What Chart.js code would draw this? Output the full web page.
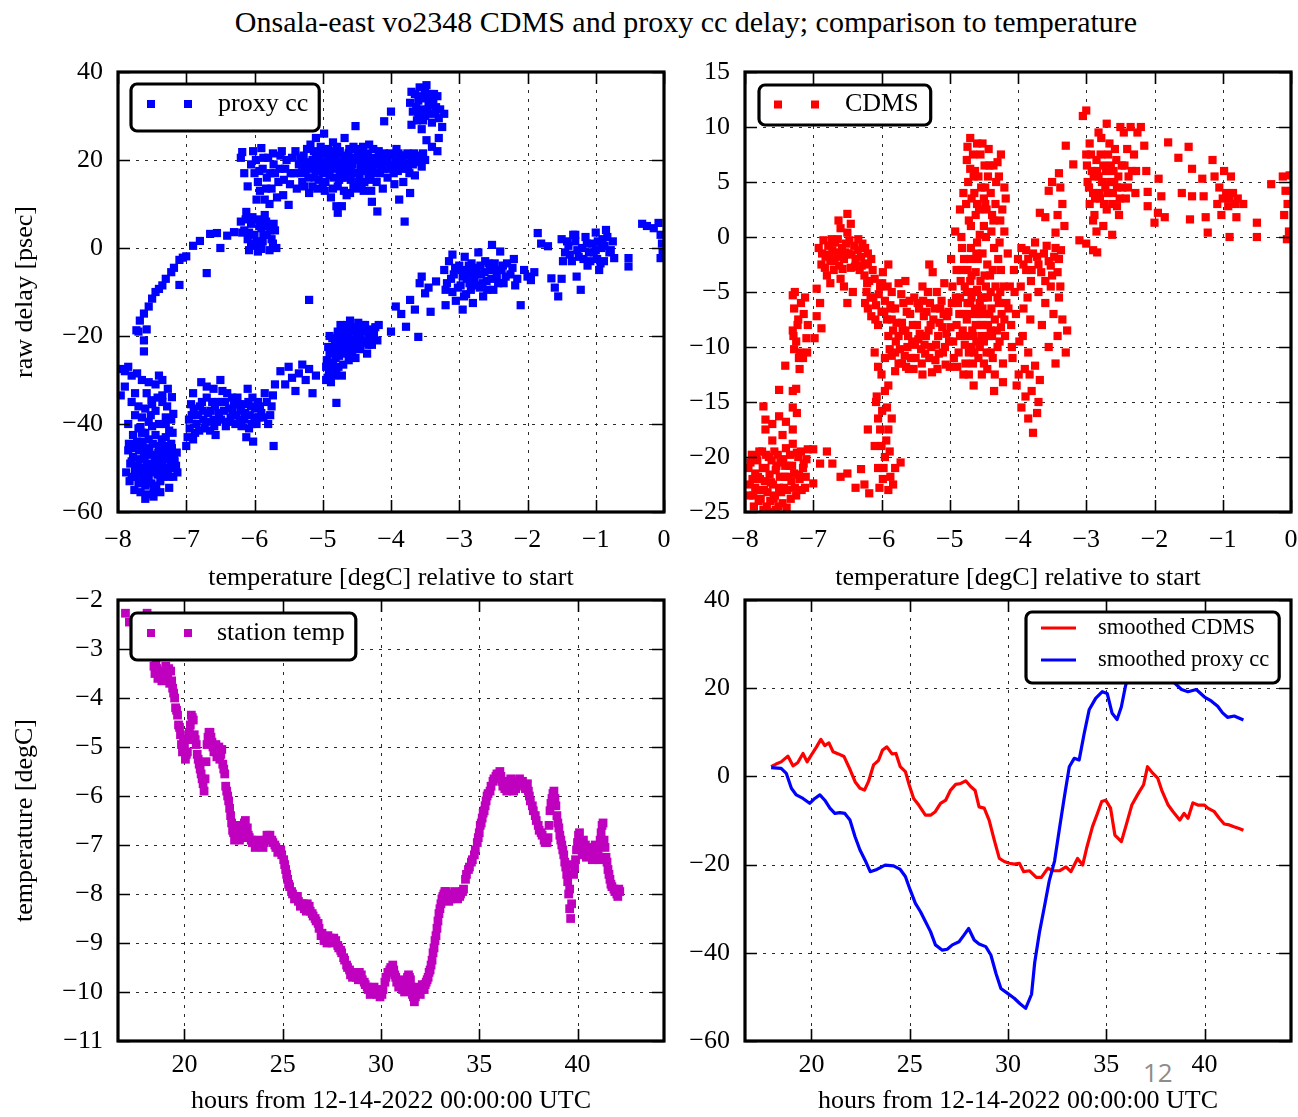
<!DOCTYPE html>
<html>
<head>
<meta charset="utf-8">
<script src="https://cdn.jsdelivr.net/npm/chart.js@4.4.1/dist/chart.umd.min.js"></script>
<style>
  html, body { margin: 0; padding: 0; background: #fff; }
  body { width: 1298px; height: 1117px; position: relative; overflow: hidden; }
  canvas { position: absolute; }
  #title { position: absolute; left: 686px; top: 5px; transform: translateX(-50%); white-space: nowrap;
           font-family: "Liberation Serif", "DejaVu Serif", serif; font-size: 30px; line-height: 34px; color: #000; }
  #page { position: absolute; left: 1143px; top: 1055px; font-family: "Open Sans", "Liberation Sans", sans-serif;
          font-size: 26px; line-height: 34px; color: #8c8c8c; }
</style>
</head>
<body>
<div id="title">Onsala-east vo2348 CDMS and proxy cc delay; comparison to temperature</div>
<div id="page">12</div>
<canvas id="c1" width="690" height="560" style="left:0px;top:40px"></canvas>
<canvas id="c2" width="660" height="560" style="left:660px;top:40px"></canvas>
<canvas id="c3" width="690" height="537" style="left:0px;top:580px"></canvas>
<canvas id="c4" width="660" height="537" style="left:660px;top:580px"></canvas>
<script>
// ---------------- tick values ----------------
const tempRelTicks = [-8, -7, -6, -5, -4, -3, -2, -1, 0];
const proxyDelayTicks = [-60, -40, -20, 0, 20, 40];
const cdmsDelayTicks = [-25, -20, -15, -10, -5, 0, 5, 10, 15];
const hourTicks = [20, 25, 30, 35, 40];
const stationTempTicks = [-11, -10, -9, -8, -7, -6, -5, -4, -3, -2];
const smoothDelayTicks = [-60, -40, -20, 0, 20, 40];

// ---------------- proxy cc delay [psec] vs temperature rel. to start [degC] ----------------
const proxyCC = [
[-7.85,-46],[-7.82,-49],[-7.8,-52],[-7.78,-47.5],[-7.75,-50.5],[-7.72,-44],[-7.7,-53.5],[-7.68,-48],[-7.65,-51],[-7.62,-46.5],
[-7.6,-54],[-7.58,-49.5],[-7.55,-52.5],[-7.52,-47],[-7.5,-50],[-7.48,-55],[-7.45,-48.5],[-7.42,-51.5],[-7.4,-45],[-7.38,-53],
[-7.35,-49],[-7.32,-46],[-7.3,-51],[-7.28,-48],[-7.25,-52],[-7.22,-44.5],[-7.2,-50],[-7.18,-47],[-7.15,-49.5],[-7.6,-57],
[-7.48,-56.5],[-7.38,-55.5],[-7.88,-51],[-7.7,-45],[-7.55,-43.5],[-7.45,-42.5],[-7.3,-43],[-7.25,-54.5],
[-7.84,-44.5],[-7.83,-53],[-7.8,-48.5],[-7.77,-45.5],[-7.76,-55],[-7.74,-52],[-7.71,-49.5],[-7.69,-46],[-7.67,-55.5],[-7.66,-50],
[-7.64,-44],[-7.63,-52.5],[-7.61,-48],[-7.59,-45.5],[-7.57,-51],[-7.56,-56],[-7.54,-46],[-7.53,-49],[-7.51,-53.5],[-7.49,-44.5],
[-7.47,-51],[-7.46,-47.5],[-7.44,-54],[-7.43,-49.5],[-7.41,-46.5],[-7.39,-51],[-7.37,-48],[-7.36,-43.5],[-7.34,-52],[-7.33,-50],
[-7.31,-47.5],[-7.29,-45],[-7.27,-50.5],[-7.24,-47],[-7.23,-49],[-7.21,-45.5],[-7.19,-52],[-7.17,-48.5],[-7.14,-46.5],[-7.13,-51],
[-7.6,-42],[-7.78,-42.5],[-7.5,-40.5],[-7.85,-40],[-7.52,-38],
[-7.95,-27.5],[-7.9,-28],[-7.85,-27],[-7.8,-29],[-7.72,-28.5],[-7.65,-30],[-7.9,-31.5],[-7.96,-33.5],[-7.55,-30.5],[-7.45,-31],[-7.35,-30],
[-7.62,-21],[-7.62,-23.5],[-7.58,-18.5],[-7.7,-19],
[-7.75,-38],[-7.7,-41],[-7.6,-36.5],[-7.55,-39.5],[-7.65,-42],[-7.45,-37],[-7.4,-40],[-7.35,-35],[-7.3,-38.5],[-7.25,-41.5],
[-7.35,-33.5],[-7.28,-36],[-7.22,-39],[-7.4,-29],[-7.27,-32],[-7.21,-33.9],[-7.19,-37.7],[-7.51,-34.6],[-7.67,-40.7],
[-7.8,-35],[-7.75,-33],[-7.7,-36],[-7.65,-38.5],[-7.58,-33],[-7.5,-35.5],[-7.42,-34],[-7.3,-40],[-7.2,-42],
[-7.73,-18.7],[-7.68,-16.5],[-7.62,-14.9],[-7.55,-13.3],[-7.5,-11.5],[-7.45,-10],[-7.4,-9.3],[-7.35,-8.5],[-7.3,-7],[-7.22,-5.5],
[-7.18,-4.5],[-7.1,-2.7],[-7.05,-2.2],[-7.0,-1.9],[-6.9,0.5],[-6.8,1.6],[-6.65,3.2],[-6.55,3.4],[-6.5,0],[-6.7,-5.7],[-7.1,-8.4],[-6.4,2.8],[-6.3,3.6],
[-6.2,6],[-6.15,4],[-6.1,2],[-6.05,5.5],[-6.0,3],[-6.0,0.5],[-5.95,6.5],[-5.9,4.5],[-5.88,1.5],[-5.85,7.5],[-5.82,3],[-5.8,5],
[-5.78,-0.5],[-5.75,2],[-5.7,4],[-5.68,0],[-6.12,8.2],[-5.95,-0.8],[-6.05,1],
[-6.18,3.5],[-6.13,6.5],[-6.08,3.5],[-6.03,7],[-5.97,1.5],[-5.93,5],[-5.87,3],[-5.83,6],[-5.77,4],[-5.73,1],[-5.72,5.5],[-5.9,-0.2],[-6.08,-0.5],
[-6.2,20.5],[-6.18,21.8],[-6.05,19],[-6.0,17],[-5.98,20],[-5.95,15],[-5.92,13],[-5.9,22.7],[-5.88,18],[-5.85,11],[-5.82,16],
[-5.8,20.5],[-5.78,10],[-5.75,13.5],[-5.72,19],[-5.7,17],[-5.65,15],[-5.62,21],[-5.6,22],[-5.58,12],[-5.55,18],[-5.5,9.8],[-5.48,14.5],[-5.45,20.5],
[-6.15,17],[-6.1,14],[-6.02,22],[-5.97,11],[-5.93,17.5],[-5.87,20.5],[-5.83,13.5],[-5.77,17],[-5.73,21.5],[-5.67,11.5],[-5.63,18],[-5.57,15.5],[-5.53,20],[-5.47,17],
[-5.4,22],[-5.35,19],[-5.3,15],[-5.28,21],[-5.25,17.5],[-5.2,12.5],[-5.18,23.5],[-5.15,20],[-5.12,16],[-5.1,25],[-5.08,13.5],
[-5.05,18.5],[-5.02,21.5],[-5.0,14.5],[-4.98,26],[-4.95,19.5],[-4.92,22.5],[-4.9,16.5],[-4.88,11.5],[-4.85,24],[-4.82,20.5],
[-4.8,18],[-4.78,14],[-4.75,22],[-4.72,9.5],[-4.7,19],[-4.68,25],[-4.65,16],[-4.62,21.5],[-4.6,12.5],[-4.58,18.5],[-4.55,23],
[-4.52,27.7],[-4.5,20],[-4.48,15],[-4.45,22],[-4.42,17.5],[-4.4,13],[-4.38,21],[-4.35,19],[-4.32,23.5],[-4.3,15.5],[-4.28,10.5],
[-4.25,20.5],[-4.22,17],[-4.2,8.3],[-4.18,22],[-4.15,18.5],[-4.12,13.5],[-4.1,28.8],[-4.08,20],[-4.05,16],[-4.02,21.5],[-4.0,31],
[-3.98,19],[-3.95,14.5],[-3.92,22.5],[-3.9,17.5],[-3.88,11],[-3.85,20.5],[-3.82,15],[-3.8,6],[-3.78,21],[-3.75,18],[-3.72,12.5],
[-3.7,20],[-3.65,16.5],[-3.6,21],[-3.55,18.5],[-3.5,20],[-4.8,9.5],[-4.78,8],[-5.2,19],[-5.0,17],[-4.6,19.5],[-4.4,20.5],[-4.9,20.5],
[-4.7,21],[-4.3,19.5],[-4.5,17],[-4.1,21.5],[-3.9,19.5],[-5.1,21],[-4.75,17],[-4.55,14],[-4.45,18.5],[-4.65,12],[-4.85,13.5],[-5.05,20.5],[-4.95,17.5],
[-5.42,17],[-5.38,13.5],[-5.33,20.5],[-5.3,18],[-5.27,14],[-5.23,22.5],[-5.21,16],[-5.16,18],[-5.13,22],[-5.09,19.5],[-5.06,15.5],
[-5.03,23],[-4.99,19],[-4.96,15],[-4.93,21],[-4.91,18],[-4.87,22],[-4.84,16],[-4.81,19.5],[-4.79,23],[-4.76,15.5],[-4.73,19.5],
[-4.71,17.5],[-4.69,13],[-4.66,20.5],[-4.63,18],[-4.61,22.5],[-4.59,15.5],[-4.56,20.5],[-4.54,17],[-4.51,13.5],[-4.49,21.5],
[-4.46,16],[-4.44,20],[-4.41,23],[-4.39,15],[-4.36,17.5],[-4.34,21.5],[-4.31,18],[-4.29,13],[-4.26,22.5],[-4.23,19],[-4.21,15],
[-4.19,20],[-4.16,17],[-4.13,21],[-4.11,18],[-4.06,19],[-4.03,18],[-3.99,21],[-3.96,17],[-3.93,20],[-3.89,21.5],[-3.86,18],
[-3.83,20],[-3.79,19],[-3.76,21.5],[-3.73,17],[-3.68,19],[-3.63,20],[-3.58,19.5],[-3.53,21.5],
[-5.25,19.5],[-5.1,17.5],[-4.95,21.5],[-4.8,21.5],[-4.65,18.5],[-4.5,22.5],[-4.35,20.5],[-4.2,19],[-4.05,20.5],[-3.92,18.5],
[-3.8,21],[-3.66,21.5],[-4.88,19],[-4.72,16],[-4.57,19],[-4.43,14.5],[-4.27,17.5],[-4.14,19.5],[-5.15,14],[-5.32,17],[-4.97,13],[-4.6,16.5],[-4.33,16],
[-3.72,33],[-3.68,31],[-3.65,35],[-3.62,29],[-3.6,33.5],[-3.58,36.5],[-3.55,31.5],[-3.52,34],[-3.5,30],[-3.48,37],[-3.45,32.5],
[-3.42,35],[-3.4,28.5],[-3.38,33],[-3.35,31],[-3.32,34.5],[-3.3,29.5],[-3.25,27.5],[-3.22,30.5],[-3.55,27],[-3.7,28],[-3.48,24.5],[-3.4,23],[-3.32,22],[-3.3,25],
[-3.7,35.5],[-3.63,32],[-3.6,30.5],[-3.57,34.5],[-3.53,29],[-3.5,35.5],[-3.47,31],[-3.43,33.5],[-3.41,30.5],[-3.37,35],[-3.34,32],[-3.28,31.5],
[-7.0,-45],[-6.95,-41],[-6.92,-38],[-6.9,-33],[-6.85,-40],[-6.8,-36],[-6.78,-30.5],[-6.75,-39],[-6.7,-34],[-6.68,-37.5],[-6.65,-41.5],
[-6.6,-32],[-6.58,-36],[-6.55,-39.5],[-6.5,-30],[-6.48,-35],[-6.45,-37],[-6.4,-33],[-6.35,-38.5],[-6.3,-35.5],[-6.28,-40],[-6.25,-34],
[-6.2,-37],[-6.15,-39],[-6.1,-32],[-6.08,-41],[-6.05,-36],[-6.02,-44],[-6.0,-38.5],[-5.95,-35],[-5.9,-37.5],[-5.85,-33],[-5.8,-40],
[-5.75,-36],[-5.72,-45],[-5.7,-31],[-6.9,-43.5],[-6.6,-39],
[-6.98,-43],[-6.93,-35.5],[-6.87,-42],[-6.83,-38],[-6.77,-35],[-6.73,-41],[-6.7,-31.5],[-6.62,-35],[-6.57,-42.5],[-6.52,-37.5],
[-6.47,-32.5],[-6.42,-40.5],[-6.37,-36.5],[-6.33,-34],[-6.22,-39],[-6.17,-35.5],[-6.12,-43],[-6.07,-38],[-6.03,-34],[-5.97,-40],
[-5.92,-36],[-5.87,-38.5],[-5.82,-35],[-5.77,-38],[-5.73,-33.5],
[-6.96,-39],[-6.89,-36.5],[-6.81,-41.5],[-6.76,-37],[-6.71,-39.5],[-6.64,-37],[-6.59,-40.5],[-6.54,-35],[-6.49,-39],[-6.43,-35],
[-6.38,-39.5],[-6.32,-37],[-6.27,-38],[-6.23,-35.5],[-6.19,-40.5],[-6.14,-37.5],[-6.09,-35],[-6.04,-40],[-5.99,-36.5],[-5.94,-38.5],
[-5.62,-28],[-5.55,-31],[-5.5,-27],[-5.45,-29.5],[-5.4,-32.5],[-5.35,-28.5],[-5.3,-26.5],[-5.25,-30],[-5.2,-27.5],[-5.15,-33],[-5.1,-29],
[-4.95,-27],[-4.93,-29.5],[-4.9,-24],[-4.88,-30.5],[-4.85,-26],[-4.82,-22],[-4.8,-28],[-4.78,-19],[-4.76,-24.5],[-4.74,-17.5],
[-4.72,-21],[-4.7,-26.5],[-4.68,-18.5],[-4.65,-23],[-4.62,-20],[-4.6,-16.5],[-4.58,-22],[-4.55,-18],[-4.52,-25],[-4.5,-20.5],
[-4.48,-17],[-4.45,-23],[-4.42,-19],[-4.4,-21.5],[-4.38,-17.5],[-4.35,-24],[-4.32,-20],[-4.3,-18.5],[-4.28,-22],[-4.25,-19.5],
[-4.2,-21],[-4.18,-17.5],[-4.8,-35.2],[-4.9,-20],[-4.62,-25.5],[-4.72,-29],
[-4.94,-25.5],[-4.91,-28],[-4.87,-23],[-4.84,-27.5],[-4.81,-25],[-4.79,-21.5],[-4.77,-27],[-4.75,-20],[-4.73,-23],[-4.71,-19.5],
[-4.69,-24],[-4.66,-21.5],[-4.64,-17.5],[-4.61,-23.5],[-4.59,-19],[-4.57,-24],[-4.54,-21],[-4.51,-18.5],[-4.49,-22.5],[-4.46,-20],
[-4.43,-21],[-4.41,-17.5],[-4.36,-19],[-4.33,-22],[-4.27,-20],[-4.23,-18],
[-4.92,-22.5],[-4.86,-20.5],[-4.8,-23.5],[-4.7,-22],[-4.63,-19],[-4.56,-23],[-4.5,-19],[-4.44,-21.5],[-4.37,-21],[-4.3,-20.5],
[-4.95,-30],[-4.89,-26.5],[-4.83,-29],
[-4.0,-19],[-3.93,-13.3],[-3.85,-15],[-3.78,-17.9],[-3.72,-11.8],[-3.65,-14],[-3.6,-20.2],[-3.58,-8],[-3.55,-6.5],[-3.5,-10.3],
[-3.45,-9],[-3.42,-14.5],[-3.34,-7.6],[-3.2,-13],[-5.2,-11.8],
[-3.22,-5],[-3.18,-8],[-3.15,-3],[-3.1,-10],[-3.08,-6],[-3.05,-12],[-3.0,-4],[-2.98,-8.5],[-2.95,-6.5],[-2.92,-2],[-2.9,-10.5],
[-2.88,-5.5],[-2.85,-8],[-2.82,-3.5],[-2.8,-12.5],[-2.78,-7],[-2.75,-4.5],[-2.72,-1],[-2.7,-9],[-2.68,-6],[-2.65,-11],[-2.62,-3],
[-2.6,-7.5],[-2.55,-5],[-2.52,0.7],[-2.5,-9.5],[-2.48,-3.5],[-2.45,-6.5],[-2.4,-0.8],[-2.38,-5],[-2.35,-8],[-2.3,-3.5],[-2.25,-6],
[-2.2,-2.5],[-2.15,-7],[-2.1,-13],[-2.05,-5],[-2.0,-6.5],[-1.95,-7.3],[-1.9,-5.5],[-3.1,-1.5],[-2.95,-14],
[-3.2,-9.5],[-3.12,-7],[-3.06,-4.5],[-3.02,-9],[-2.97,-5],[-2.93,-11],[-2.89,-7],[-2.86,-4],[-2.83,-9.5],[-2.79,-5.5],[-2.76,-8.5],
[-2.73,-6],[-2.69,-4],[-2.66,-8],[-2.63,-5.5],[-2.59,-9.5],[-2.57,-3.5],[-2.53,-7],[-2.47,-5],[-2.43,-8],[-2.36,-4],[-2.32,-6.5],[-2.22,-4.5],[-2.18,-8.5],
[-1.85,3.4],[-1.8,1],[-1.7,0.4],[-1.65,-6.9],[-1.6,-9],[-1.55,-11],[-1.5,-7],
[-1.5,2],[-1.45,-1],[-1.4,0.5],[-1.35,-3],[-1.3,1.5],[-1.28,-6.5],[-1.25,-2],[-1.22,-9.5],[-1.2,0],[-1.15,2.5],[-1.12,-4],
[-1.1,-1],[-1.05,1],[-1.0,3.5],[-0.98,-2.5],[-0.95,-5],[-0.92,0],[-0.9,2],[-0.88,-3],[-0.85,4.1],[-0.8,-1],[-0.75,1.5],
[-0.73,-2.3],[-0.52,-2.3],[-0.52,-4.2],[-1.3,3],[-1.0,-0.5],
[-1.48,-3],[-1.42,1.5],[-1.38,-1.5],[-1.33,3],[-1.27,-0.5],[-1.18,-2.5],[-1.13,1],[-1.08,-3],[-1.03,-1],[-0.97,1.5],[-0.93,-3.5],
[-0.87,0.5],[-0.83,2.5],[-0.78,-0.5],
[-0.32,5.5],[-0.25,5],[-0.15,4.5],[-0.08,5.7],[-0.05,3],[-0.03,1],[-0.02,-1],[-0.05,-2.3]
];

// ---------------- CDMS delay [psec] vs temperature rel. to start [degC] ----------------
const cdms = [
[-7.95,-21],[-7.93,-22.5],[-7.9,-19.8],[-7.88,-23.5],[-7.85,-21.5],[-7.82,-20.3],[-7.8,-24],[-7.78,-22],[-7.75,-19.5],[-7.72,-23],
[-7.7,-21],[-7.68,-24.5],[-7.65,-20],[-7.62,-22.3],[-7.6,-18.5],[-7.58,-23.8],[-7.55,-21.2],[-7.52,-19.8],[-7.5,-22.8],[-7.48,-20.5],
[-7.45,-24.2],[-7.42,-21.8],[-7.4,-19.2],[-7.38,-23],[-7.35,-20.8],[-7.32,-22.2],[-7.3,-18.8],[-7.28,-21.5],[-7.25,-23.5],[-7.22,-20],
[-7.2,-22],[-7.18,-19.5],[-7.15,-21],[-7.12,-22.8],[-7.1,-20.2],[-7.08,-19.3],[-7.65,-25],[-7.55,-24.8],[-7.85,-22.8],[-7.7,-17.5],
[-7.6,-17],[-7.45,-18],[-7.4,-16.8],[-7.3,-17.5],
[-7.94,-23.5],[-7.92,-20.5],[-7.89,-22],[-7.87,-24.5],[-7.84,-20],[-7.83,-23],[-7.81,-21.8],[-7.79,-19.5],[-7.77,-23.8],[-7.74,-21],
[-7.73,-24.8],[-7.71,-22.2],[-7.69,-19.8],[-7.67,-23.2],[-7.64,-21.6],[-7.63,-24],[-7.61,-20.3],[-7.59,-22.5],[-7.57,-19.5],[-7.56,-23.5],
[-7.54,-20.8],[-7.51,-24.5],[-7.49,-21.8],[-7.47,-23.2],[-7.44,-20.2],[-7.43,-22.8],[-7.41,-20.8],[-7.39,-24.6],[-7.37,-21.8],[-7.34,-19.8],
[-7.33,-23.8],[-7.31,-20.8],[-7.27,-22.8],[-7.24,-19.6],[-7.21,-21.6],[-7.17,-23],[-7.14,-20.6],[-7.11,-21.8],[-7.62,-25.3],[-7.7,-25.2],
[-7.73,-15.4],[-7.7,-16.6],[-7.5,-16.3],[-7.5,-13.9],[-7.3,-14],[-7.41,-11.7],[-7.2,-12],[-7.24,-16],[-7.3,-15.5],[-7.25,-13.8],
[-7.3,-5.3],[-7.28,-6.5],[-7.22,-7.5],[-7.3,-8.5],[-7.25,-9.5],[-7.2,-10.5],[-7.12,-5.5],[-7.08,-8],[-7.15,-11],[-7.18,-6],[-7.1,-9.2],[-7.28,-10.2],
[-7.27,-5],[-7.23,-8],[-7.29,-9],[-7.21,-11],[-7.14,-7],[-7.09,-10.5],
[-7.0,-19.3],[-6.8,-19.5],[-6.9,-20.6],[-6.72,-20.6],[-7.0,-22.4],[-6.6,-21.8],[-6.5,-21.5],[-6.38,-22.8],
[-6.95,-4.7],[-6.9,-6],[-6.95,-7.2],[-6.88,-8.3],[-6.98,-9.2],
[-6.92,-1],[-6.88,-2.5],[-6.85,-0.3],[-6.82,-1.8],[-6.8,-3.5],[-6.78,-0.8],[-6.75,-2.2],[-6.72,-1.2],[-6.7,-3],[-6.68,-0.5],
[-6.65,-1.8],[-6.63,1.5],[-6.62,-2.6],[-6.6,-3.8],[-6.58,-1],[-6.55,-2],[-6.52,-0.6],[-6.5,2.1],[-6.5,0.4],[-6.48,-1.5],
[-6.45,-2.8],[-6.42,-5],[-6.4,-0.8],[-6.38,-2],[-6.35,-1.2],[-6.32,-3],[-6.3,-1.8],[-6.28,-0.6],[-6.25,-2.4],[-6.2,-1.5],
[-6.15,-2],[-6.5,-6],[-6.75,-4.2],[-6.55,-4.5],
[-6.87,-1.5],[-6.83,-2.8],[-6.77,-1.6],[-6.73,-0.2],[-6.69,-2.2],[-6.64,-0.2],[-6.61,-1.4],[-6.57,-2.9],[-6.53,-1.4],[-6.47,-0.3],
[-6.44,-1.6],[-6.39,-2.7],[-6.34,-0.2],[-6.29,-2.6],[-6.24,-1],[-6.6,0.8],[-6.45,1.2],
[-6.25,-3.5],[-6.22,-5],[-6.2,-6.5],[-6.18,-4],[-6.15,-7.2],[-6.12,-5.5],[-6.1,-3.8],[-6.08,-6.2],[-6.05,-8],[-6.02,-4.5],
[-6.0,-6.8],[-5.98,-3.2],[-5.95,-5.8],[-5.92,-7.5],[-5.9,-2.5],[-5.85,-5],[-5.8,-6.5],[-5.75,-4.2],[-5.7,-7.8],[-6.2,-2.5],
[-6.24,-6],[-6.21,-4.2],[-6.16,-5.5],[-6.13,-3],[-6.09,-7.5],[-6.04,-5.2],[-5.99,-4.2],[-5.96,-6.8],[-5.91,-4.5],[-5.87,-6.2],
[-6.1,-10.5],[-6.05,-11.8],[-6.0,-12.5],[-5.95,-11],[-5.9,-13.5],[-5.85,-10.8],[-5.8,-12.2],[-5.75,-11.5],[-5.95,-14],
[-6.08,-15],[-6.05,-16.5],[-5.92,-15.5],[-5.9,-17.5],[-6.1,-19],[-5.95,-20],[-6.05,-21],[-5.88,-19.5],[-5.98,-22],[-5.9,-23],
[-5.8,-21],[-5.72,-20.5],[-5.85,-16.5],[-6.3,-21.1],[-6.25,-22.5],[-6.18,-23.3],[-6.2,-17.5],
[-6.07,-14.5],[-6.02,-17.5],[-6.0,-19],[-5.97,-21],[-6.03,-22.8],[-5.93,-18.5],[-5.87,-21.8],[-5.83,-22.5],[-5.99,-15.8],
[-5.9,-9],[-5.85,-7.5],[-5.8,-10.5],[-5.75,-9],[-5.7,-11.5],[-5.68,-6],[-5.65,-8.5],[-5.62,-10],[-5.6,-12],[-5.58,-7],
[-5.55,-9.5],[-5.52,-5.5],[-5.5,-11],[-5.48,-8],[-5.45,-6.5],[-5.42,-10.2],[-5.4,-12.5],[-5.38,-7.2],[-5.35,-9],[-5.32,-5],
[-5.3,-11],[-5.28,-8],[-5.25,-3.2],[-5.22,-6.5],[-5.2,-9.8],[-5.18,-12],[-5.15,-7.8],[-5.12,-5.8],[-5.1,-10.5],[-5.08,-4.2],
[-5.05,-8.8],[-5.02,-6.8],[-5.0,-11.8],[-4.98,-2],[-4.95,-9.5],[-5.65,-4],[-5.4,-4.5],[-5.3,-2.5],
[-5.88,-10.2],[-5.83,-8.5],[-5.78,-7.8],[-5.73,-10.2],[-5.69,-8.5],[-5.66,-10.8],[-5.63,-6.8],[-5.61,-9],[-5.57,-11],[-5.54,-8],
[-5.51,-9.8],[-5.47,-6],[-5.44,-8.8],[-5.41,-11.5],[-5.37,-9.8],[-5.34,-6.8],[-5.31,-8.5],[-5.27,-10],[-5.24,-7.5],[-5.21,-11.2],
[-5.17,-9],[-5.14,-6.5],[-5.11,-8.2],[-5.07,-10],[-5.04,-7.2],[-5.01,-9.5],[-4.97,-6],[-4.94,-11],
[-5.86,-6.5],[-5.79,-9.5],[-5.71,-5.2],[-5.64,-11.8],[-5.59,-5.8],[-5.53,-12],[-5.46,-9.3],[-5.39,-5.8],[-5.36,-10.6],[-5.29,-6],
[-5.26,-12.3],[-5.19,-5],[-5.16,-10.6],[-5.09,-7],[-5.06,-11.6],[-4.99,-8.2],[-4.96,-4.5],
[-4.92,0.5],[-4.9,-3],[-4.88,-6],[-4.85,2.5],[-4.85,-9],[-4.82,-1],[-4.8,-12.5],[-4.8,4],[-4.78,-4.5],[-4.75,7],[-4.75,-7.5],
[-4.72,1.5],[-4.72,-10.5],[-4.7,9],[-4.7,-2],[-4.68,-5.5],[-4.65,5.5],[-4.65,-13.5],[-4.62,-8],[-4.6,3],[-4.6,-0.5],[-4.58,-11],
[-4.55,7.5],[-4.55,-4],[-4.52,-6.5],[-4.5,1],[-4.5,-9.5],[-4.48,4.5],[-4.45,-2.5],[-4.45,-12],[-4.42,6.5],[-4.4,-5],[-4.4,-8.5],
[-4.38,2],[-4.35,-14],[-4.35,-1],[-4.32,5],[-4.3,-10],[-4.28,-6],[-4.25,7.5],[-4.25,-3],[-4.22,-11.5],[-4.2,0.5],[-4.2,-7.5],
[-4.18,3.5],[-4.7,-6],[-4.6,-7],[-4.5,-5.5],[-4.75,-5],[-4.65,-9],[-4.55,-8],[-4.8,-7],[-4.7,-4],[-4.62,-3.2],[-4.42,-7],
[-4.85,-5.5],[-4.68,-10],[-4.38,-9],[-4.53,-12.5],[-4.62,2],[-4.48,3],[-4.58,5.5],[-4.68,3.5],[-4.52,8.5],[-4.4,4],
[-4.9,-8],[-4.87,-10.5],[-4.84,-4],[-4.81,-8.5],[-4.79,-2],[-4.77,-11.5],[-4.76,-9],[-4.74,-3],[-4.71,-7],[-4.69,-1],[-4.67,-8.5],
[-4.66,-11.5],[-4.64,-5],[-4.63,-6.5],[-4.61,-9.5],[-4.59,-2],[-4.57,-7],[-4.56,-10],[-4.54,-5.5],[-4.51,-8],[-4.49,-3.5],[-4.47,-7],
[-4.46,-10.5],[-4.44,-5.5],[-4.43,-9],[-4.41,-3.5],[-4.39,-6.5],[-4.37,-11],[-4.34,-7.5],[-4.33,-4.5],[-4.31,-8.5],[-4.29,-2],
[-4.27,-9.5],[-4.26,-5],[-4.24,-7],[-4.21,-4.5],[-4.19,-9],[-4.17,-6],[-4.73,5],[-4.66,7.5],[-4.63,6],[-4.57,2.5],[-4.54,4.5],
[-4.49,6.5],[-4.46,2.5],[-4.43,8],[-4.36,6.5],[-4.33,3],[-4.28,5.5],[-4.23,2.5],[-4.69,1],[-4.76,3],[-4.83,0],[-4.61,-1.5],
[-4.47,0],[-4.36,1.5],[-4.27,-0.5],[-4.52,-1.5],
[-4.91,-5.5],[-4.89,-11.8],[-4.86,-7],[-4.83,-3],[-4.78,-9.8],[-4.74,-6],[-4.72,-12.5],[-4.68,-3.5],[-4.64,-10.5],[-4.6,-4.8],
[-4.56,-6],[-4.53,-9],[-4.5,-11.5],[-4.47,-4.5],[-4.44,-8],[-4.4,-10.5],[-4.37,-3],[-4.34,-12.5],[-4.3,-5.5],[-4.25,-8.2],
[-4.22,-13.2],[-4.74,8.2],[-4.7,6.2],[-4.64,4],[-4.6,8.5],[-4.56,0.2],[-4.5,3.5],[-4.44,5.5],[-4.39,0.5],[-4.3,6.8],[-4.26,1.5],[-4.2,4.5],
[-4.15,-1.5],[-4.12,-4.5],[-4.1,-8],[-4.08,-11],[-4.05,-5],[-4.02,-13.5],[-4.0,-2],[-3.98,-9.5],[-3.95,-15.5],[-3.92,-6.5],
[-3.9,-12],[-3.88,-3],[-3.85,-10.5],[-3.82,-7.5],[-3.8,-14],[-3.78,-1.5],[-3.85,-16.5],[-3.78,-17.8],[-3.72,-16],[-3.68,-13],[-3.75,-11.7],[-3.7,-15],
[-4.14,-6.5],[-4.09,-10],[-4.06,-3],[-4.03,-7],[-3.99,-12.5],[-3.96,-4.5],[-3.93,-9],[-3.89,-14.5],[-3.86,-5.5],[-3.83,-12.5],[-3.81,-4],
[-3.95,-1],[-3.85,-2],[-3.75,-0.5],[-3.7,-2.5],[-3.62,-1.5],[-3.55,-2.2],[-3.5,-3.5],[-3.45,-1],[-3.4,-2],[-3.38,-4.5],[-3.6,-4],
[-3.92,-2.5],[-3.88,-1.2],[-3.8,-3],[-3.72,-1.8],[-3.66,-3.2],[-3.58,-0.8],[-3.52,-2.6],[-3.47,-1.8],[-3.42,-3.2],[-3.37,-1.2],
[-3.4,5.8],[-3.38,4.5],[-3.35,3],[-3.42,2],[-3.32,1],[-3.45,0.4],[-3.55,4.2],[-3.6,1.8],[-3.68,2.2],[-3.5,5],
[-3.7,-5],[-3.65,-8],[-3.6,-6],[-3.55,-10],[-3.52,-4.5],[-3.48,-7],[-3.45,-11.5],[-3.42,-9],[-3.4,-5.5],[-3.35,-7.5],[-3.3,-10.5],[-3.28,-8.5],
[-3.3,8.3],[-3.19,6.6],[-3.1,-0.3],[-3.0,-0.6],[-2.9,-1.2],[-2.84,-1.4],
[-3.05,11],[-3.0,11.5],[-3.0,7.5],[-2.98,5],[-2.95,3],[-2.95,8.5],[-2.92,6],[-2.9,4],[-2.88,2],[-2.85,7],[-2.82,5.5],[-2.8,3.5],
[-2.78,9],[-2.75,6.5],[-2.72,4.5],[-2.7,10.3],[-2.7,2.5],[-2.68,7.5],[-2.65,5],[-2.62,3],[-2.6,6],[-2.58,8],[-2.55,4.5],[-2.52,2],
[-2.5,10],[-2.48,6.5],[-2.45,9.5],[-2.42,3.5],[-2.4,8],[-2.38,5.5],[-2.35,10],[-2.3,7.5],[-2.28,4],[-2.25,9.5],[-2.2,10],[-2.15,8.3],
[-2.12,6],[-2.1,4.1],[-2.9,1.5],[-2.85,0.5],[-2.75,1],[-2.62,0.2],[-2.82,9.5],[-2.55,2.8],
[-2.99,6.5],[-2.96,4.5],[-2.93,7.5],[-2.89,5.5],[-2.87,3.5],[-2.84,6],[-2.81,4],[-2.79,7.5],[-2.77,5],[-2.74,3],[-2.71,6],[-2.69,4],
[-2.66,8.5],[-2.64,6.5],[-2.61,4],[-2.59,5],[-2.56,7],[-2.53,5.5],[-2.51,3.5],[-2.47,4.5],[-2.44,6.5],[-2.39,4.5],[-2.33,6],[-2.27,6],
[-2.1,2.8],[-2.0,1.3],[-1.95,2.2],[-1.85,1.8],[-1.94,5.3],[-1.9,3.7],[-1.8,8.6],[-1.65,7.2],[-1.5,8.2],[-1.6,4],[-1.45,3.7],
[-1.48,1.6],[-1.45,6.2],[-1.3,5.3],[-1.28,3.7],[-1.25,1.8],[-1.22,0.4],
[-1.15,7],[-1.12,5.5],[-1.08,3],[-1.05,4.5],[-1.02,2],[-1.0,3.5],[-0.98,6],[-0.95,4],[-0.92,2.8],[-0.9,3.5],[-0.88,5.5],
[-0.85,4],[-0.82,3],[-0.8,1.8],[-0.78,3.5],[-0.9,0],[-0.7,3],
[-0.5,1.3],[-0.5,0],[-0.29,4.8],[-0.12,5.5],[-0.08,4.2],[-0.05,3],[-0.1,2],[-0.03,0.5],[-0.02,5.6],[-0.06,-0.2]
];

// ---------------- station temperature [degC] vs hours ----------------
const stationTemp = [
[17.0,-2.27],[17.2,-2.45],[17.45,-2.6],[17.7,-2.75],[17.95,-2.9],[18.1,-2.27],[18.3,-2.95],[18.4,-3.1],[18.45,-3.35],[18.5,-3.5],
[18.55,-3.3],[18.65,-3.6],[18.75,-3.45],[18.85,-3.65],[18.95,-3.5],[19.05,-3.35],[19.15,-3.55],[19.25,-3.7],[19.3,-3.45],[19.4,-3.8],
[19.5,-4.0],[19.55,-4.2],[19.65,-4.35],[19.7,-4.55],[19.8,-4.75],[19.85,-4.95],[19.9,-5.1],[20.0,-5.0],[20.05,-5.25],[20.15,-5.1],
[20.2,-4.85],[20.3,-4.55],[20.35,-4.35],[20.45,-4.45],[20.5,-4.75],[20.6,-4.95],[20.65,-5.15],[20.75,-5.35],[20.85,-5.55],[20.95,-5.75],
[21.0,-5.9],[21.05,-5.65],[21.1,-5.3],[21.15,-4.95],[21.25,-4.7],[21.35,-4.8],[21.45,-5.0],[21.55,-5.05],[21.65,-5.2],[21.75,-5.0],
[21.85,-5.15],[21.95,-5.35],[22.05,-5.55],[22.1,-5.8],[22.2,-6.0],[22.3,-6.25],[22.4,-6.55],[22.5,-6.75],[22.6,-6.85],[22.7,-6.6],
[22.8,-6.9],[22.9,-6.75],[23.0,-6.6],[23.1,-6.5],[23.2,-6.65],[23.3,-6.85],[23.45,-6.95],[23.6,-7.05],[23.75,-6.9],[23.9,-7.0],
[24.05,-6.95],[24.2,-6.8],[24.35,-6.8],[24.5,-6.95],[24.65,-7.05],[24.8,-7.1],[24.95,-7.2],[25.05,-7.3],[25.15,-7.5],[25.25,-7.7],
[25.35,-7.85],[25.5,-8.0],[25.65,-8.05],[25.8,-8.15],[25.95,-8.2],[26.1,-8.3],[26.25,-8.2],[26.4,-8.35],[26.55,-8.45],[26.7,-8.55],
[26.85,-8.7],[27.0,-8.8],[27.15,-8.9],[27.3,-8.85],[27.5,-9.0],[27.7,-8.95],[27.85,-9.1],[28.0,-9.2],[28.15,-9.35],[28.3,-9.5],
[28.45,-9.65],[28.6,-9.6],[28.75,-9.7],[28.9,-9.6],[29.05,-9.75],[29.2,-9.85],[29.35,-9.95],[29.5,-10.0],[29.65,-9.9],[29.8,-10.05],
[29.95,-10.1],[30.1,-9.95],[30.2,-9.8],[30.35,-9.6],[30.5,-9.5],[30.6,-9.45],[30.7,-9.65],[30.8,-9.8],[30.9,-9.9],[31.0,-9.75],
[31.1,-9.95],[31.2,-10.0],[31.3,-9.8],[31.4,-9.65],[31.5,-9.75],[31.6,-10.05],[31.7,-10.2],[31.8,-10.0],[31.9,-9.9],[32.0,-10.05],
[32.1,-9.85],[32.2,-9.95],[32.3,-9.8],[32.4,-9.7],[32.5,-9.55],[32.6,-9.35],[32.7,-9.1],[32.8,-8.85],[32.9,-8.55],[33.0,-8.3],
[33.1,-8.1],[33.2,-8.0],[33.3,-7.95],[33.45,-8.15],[33.6,-8.05],[33.75,-7.95],[33.9,-8.1],[34.05,-8.0],[34.2,-7.9],[34.35,-7.6],
[34.5,-7.45],[34.65,-7.3],[34.8,-7.1],[34.95,-6.85],[35.05,-6.6],[35.15,-6.45],[35.25,-6.3],[35.35,-6.1],[35.45,-5.95],[35.6,-5.8],
[35.75,-5.65],[35.9,-5.55],[36.05,-5.5],[36.15,-5.7],[36.3,-5.85],[36.45,-5.8],[36.6,-5.65],[36.75,-5.9],[36.9,-5.75],[37.05,-5.65],
[37.2,-5.7],[37.35,-5.85],[37.5,-5.9],[37.6,-6.1],[37.75,-6.3],[37.9,-6.5],[38.05,-6.7],[38.2,-6.8],[38.35,-6.95],[38.5,-6.85],
[38.6,-6.3],[38.7,-6.05],[38.8,-5.9],[38.9,-6.2],[39.0,-6.55],[39.1,-6.8],[39.2,-7.0],[39.3,-7.2],[39.4,-7.45],[39.5,-7.75],
[39.55,-8.0],[39.6,-8.3],[39.65,-8.5],[39.7,-8.2],[39.8,-7.6],[39.9,-7.3],[40.0,-6.95],[40.1,-6.75],[40.2,-7.1],[40.3,-6.9],
[40.45,-7.25],[40.6,-7.05],[40.75,-7.3],[40.9,-7.0],[41.05,-7.2],[41.15,-6.9],[41.25,-6.6],[41.35,-6.9],[41.45,-7.25],[41.55,-7.5],
[41.65,-7.7],[41.75,-7.85],[41.9,-7.95],[42.05,-8.05],[42.15,-7.95],
[18.6,-3.4],[18.8,-3.55],[19.0,-3.6],[19.2,-3.4],[19.35,-3.65],[19.45,-3.9],[19.6,-4.25],[19.75,-4.6],[19.95,-4.85],[20.1,-5.15],
[20.25,-4.7],[20.4,-4.4],[20.55,-4.85],[20.7,-5.25],[20.8,-5.45],[20.9,-5.65],[21.2,-4.8],[21.3,-4.7],[21.4,-4.9],[21.5,-5.1],
[21.6,-4.95],[21.7,-5.1],[21.8,-5.25],[21.9,-5.05],[22.0,-5.45],[22.15,-5.9],[22.25,-6.1],[22.35,-6.4],[22.45,-6.7],[22.55,-6.9],
[22.65,-6.75],[22.75,-6.85],[22.85,-6.65],[22.95,-6.85],[23.05,-6.55],[23.15,-6.7],[23.25,-6.8],[23.4,-6.9],[23.55,-6.95],[23.7,-7.0],
[23.85,-6.95],[24.0,-7.05],[24.15,-6.9],[24.3,-6.85],[24.45,-6.9],[24.6,-7.0],[24.75,-7.15],[24.9,-7.1],[25.1,-7.4],[25.2,-7.6],
[25.3,-7.8],[25.45,-7.95],[25.6,-8.1],[25.75,-8.05],[25.9,-8.25],[26.05,-8.2],[26.2,-8.35],[26.35,-8.25],[26.5,-8.4],[26.65,-8.5],
[26.8,-8.6],[26.95,-8.85],[27.1,-8.95],[27.25,-9.0],[27.4,-8.9],[27.6,-8.9],[27.8,-9.05],[27.95,-9.15],[28.1,-9.3],[28.25,-9.45],
[28.4,-9.55],[28.55,-9.7],[28.7,-9.6],[28.85,-9.75],[29.0,-9.65],[29.15,-9.8],[29.3,-9.9],[29.45,-10.05],[29.6,-9.95],[29.75,-9.95],
[29.9,-10.0],[30.05,-10.05],[30.25,-9.7],[30.45,-9.55],[30.65,-9.55],[30.75,-9.7],[30.95,-9.85],[31.05,-9.9],[31.25,-9.85],[31.35,-9.7],
[31.45,-9.7],[31.55,-9.9],[31.65,-10.1],[31.75,-10.1],[31.85,-9.95],[31.95,-10.0],[32.05,-9.95],[32.15,-9.9],[32.25,-9.85],[32.35,-9.75],
[32.45,-9.6],[32.55,-9.45],[32.65,-9.2],[32.75,-8.95],[32.85,-8.7],[32.95,-8.4],[33.05,-8.2],[33.15,-8.05],[33.25,-7.95],[33.4,-8.1],
[33.55,-8.1],[33.7,-8.0],[33.85,-8.05],[34.0,-8.05],[34.15,-7.95],[34.3,-7.7],[34.45,-7.5],[34.6,-7.35],[34.75,-7.2],[34.9,-6.95],
[35.0,-6.75],[35.1,-6.55],[35.2,-6.35],[35.3,-6.2],[35.4,-6.0],[35.55,-5.9],[35.7,-5.7],[35.85,-5.6],[36.0,-5.55],[36.1,-5.6],
[36.2,-5.8],[36.4,-5.9],[36.55,-5.7],[36.7,-5.75],[36.85,-5.85],[37.0,-5.7],[37.15,-5.75],[37.3,-5.8],[37.45,-5.75],[37.55,-6.0],
[37.7,-6.2],[37.85,-6.4],[38.0,-6.6],[38.15,-6.75],[38.3,-6.9],[38.45,-6.95],[38.55,-6.6],[38.65,-6.15],[38.75,-5.95],[38.85,-6.05],
[38.95,-6.4],[39.05,-6.65],[39.15,-6.9],[39.25,-7.1],[39.35,-7.35],[39.45,-7.6],[39.6,-7.9],[39.75,-7.4],[39.85,-7.45],[39.95,-7.1],
[40.05,-6.8],[40.15,-7.0],[40.25,-7.2],[40.4,-7.0],[40.5,-7.15],[40.7,-7.2],[40.85,-7.25],[41.0,-7.05],[41.1,-7.3],[41.2,-6.75],
[41.3,-6.55],[41.4,-7.05],[41.5,-7.35],[41.6,-7.6],[41.7,-7.8],[41.85,-7.9],[42.0,-8.0],[42.1,-7.9]
];

// ---------------- smoothed delays [psec] vs hours ----------------
const smoothedCDMS = [
[17.95,2.2],[18.2,2.8],[18.46,3.3],[18.8,4.6],[19.06,2.4],[19.3,3.1],[19.57,5.2],[19.78,3.3],[20.0,4.9],[20.26,6.7],
[20.48,8.4],[20.68,7.0],[20.89,7.6],[21.1,5.6],[21.37,5.1],[21.66,4.5],[21.97,1.5],[22.22,-1.2],[22.47,-2.7],[22.7,-3.1],
[22.9,-1.2],[23.16,2.6],[23.41,3.6],[23.62,6.0],[23.84,6.7],[24.1,5.1],[24.3,5.2],[24.52,2.2],[24.78,1.1],[24.98,-2.0],
[25.2,-5.0],[25.46,-6.5],[25.8,-8.8],[26.06,-8.8],[26.3,-8.0],[26.57,-6.1],[26.83,-5.4],[27.08,-3.1],[27.34,-1.8],[27.6,-1.6],
[27.85,-1.0],[28.1,-2.3],[28.33,-3.2],[28.53,-6.9],[28.79,-7.2],[29.04,-9.9],[29.3,-14.4],[29.56,-18.6],[29.81,-19.3],[30.07,-19.7],
[30.32,-19.9],[30.58,-19.7],[30.8,-21.6],[31.1,-21.4],[31.44,-22.9],[31.7,-22.9],[32.03,-20.8],[32.28,-21.4],[32.62,-21.4],[32.95,-20.5],
[33.2,-21.6],[33.54,-18.6],[33.8,-20.1],[34.0,-16.3],[34.3,-11.4],[34.55,-8.4],[34.77,-5.7],[34.97,-5.4],[35.22,-7.2],[35.44,-13.3],
[35.77,-14.8],[36.06,-10.3],[36.3,-6.5],[36.64,-3.8],[36.9,-1.9],[37.1,2.2],[37.35,0.8],[37.62,-0.4],[37.82,-3.1],[38.15,-6.5],
[38.4,-8.0],[38.74,-9.9],[38.96,-8.4],[39.16,-9.5],[39.41,-6.0],[39.66,-6.5],[40.0,-6.5],[40.17,-7.2],[40.5,-8.0],[40.75,-9.5],
[41.0,-10.8],[41.26,-11.0],[41.5,-11.4],[41.76,-11.8],[41.98,-12.2]
];
const smoothedProxy = [
[17.95,2.0],[18.46,1.8],[18.72,0.7],[18.98,-2.7],[19.23,-4.2],[19.57,-5.0],[19.91,-6.1],[20.17,-5.0],[20.43,-4.2],[20.68,-5.4],
[20.94,-7.2],[21.19,-8.4],[21.45,-8.2],[21.7,-8.4],[21.96,-9.9],[22.22,-13.7],[22.47,-16.7],[22.73,-19.0],[22.99,-21.6],[23.33,-21.1],
[23.75,-20.1],[24.18,-20.3],[24.52,-21.1],[24.78,-22.7],[25.03,-25.8],[25.29,-28.8],[25.55,-30.7],[25.8,-32.9],[26.06,-35.2],[26.31,-38.2],
[26.66,-39.4],[26.91,-39.2],[27.17,-38.2],[27.51,-37.5],[27.76,-36.0],[28.0,-34.5],[28.28,-37.1],[28.53,-38.0],[28.87,-38.6],[29.13,-40.5],
[29.39,-44.7],[29.64,-48.1],[29.98,-49.2],[30.32,-50.3],[30.6,-51.5],[30.9,-52.6],[31.2,-49.4],[31.36,-42.2],[31.6,-35.4],[31.86,-29.4],
[32.1,-23.7],[32.37,-19.2],[32.62,-11.8],[32.87,-4.6],[33.12,2.2],[33.37,4.1],[33.62,3.7],[33.88,9.8],[34.13,15.1],[34.46,17.7],
[34.8,19.2],[35.05,18.8],[35.3,14.3],[35.55,12.9],[35.77,15.8],[35.97,20.3],[36.1,22.5],[36.4,25],[36.8,26.5],[37.2,27],
[37.6,26],[38.0,24.5],[38.3,23],[38.4,21.5],[38.83,19.7],[39.16,19.2],[39.58,19.7],[40.0,18.0],[40.34,17.1],[40.67,15.9],
[40.92,14.4],[41.17,13.4],[41.51,13.7],[41.98,12.8]
];

// ---------------- rendering helpers ----------------
const SERIF = '"Liberation Serif", "DejaVu Serif", serif';
const minus = v => (v < 0 ? '\u2212' + Math.abs(v) : String(v));
const pts = arr => arr.map(([x, y]) => ({x, y}));

const mplFrame = {
  id: 'mplFrame',
  beforeDatasetsDraw(chart) {
    const {ctx, chartArea: a, scales: {x, y}} = chart;
    ctx.save();
    ctx.strokeStyle = '#2a2a2a';
    ctx.lineWidth = 1;
    ctx.setLineDash([3, 6]);
    x.ticks.forEach(t => {
      const p = Math.round(x.getPixelForValue(t.value)) + 0.5;
      if (p > a.left + 3 && p < a.right - 3) { ctx.beginPath(); ctx.moveTo(p, a.top); ctx.lineTo(p, a.bottom); ctx.stroke(); }
    });
    y.ticks.forEach(t => {
      const p = Math.round(y.getPixelForValue(t.value)) + 0.5;
      if (p > a.top + 3 && p < a.bottom - 3) { ctx.beginPath(); ctx.moveTo(a.left, p); ctx.lineTo(a.right, p); ctx.stroke(); }
    });
    ctx.restore();
  },
  afterDatasetsDraw(chart, args, opts) {
    const {ctx, chartArea: a, scales: {x, y}} = chart;
    ctx.save();
    ctx.setLineDash([]);
    ctx.strokeStyle = '#000';
    ctx.lineWidth = 1.6;
    const tl = 12;
    x.ticks.forEach(t => {
      const p = Math.round(x.getPixelForValue(t.value)) + 0.5;
      ctx.beginPath(); ctx.moveTo(p, a.bottom); ctx.lineTo(p, a.bottom - tl);
      ctx.moveTo(p, a.top); ctx.lineTo(p, a.top + tl); ctx.stroke();
    });
    y.ticks.forEach(t => {
      const p = Math.round(y.getPixelForValue(t.value)) + 0.5;
      ctx.beginPath(); ctx.moveTo(a.left, p); ctx.lineTo(a.left + tl, p);
      ctx.moveTo(a.right, p); ctx.lineTo(a.right - tl, p); ctx.stroke();
    });
    ctx.lineWidth = 3.2;
    ctx.strokeRect(a.left, a.top, a.right - a.left, a.bottom - a.top);

    // legend box
    const L = opts.legend;
    if (L) {
      ctx.font = L.size + 'px ' + SERIF;
      let tw = 0;
      L.rows.forEach(r => { tw = Math.max(tw, ctx.measureText(r.label).width); });
      const bx = a.left + L.dx, by = a.top + L.dy;
      const bw = L.textDx + tw + L.padR - L.dx, bh = L.h;
      ctx.beginPath();
      ctx.roundRect(bx, by, bw, bh, 6);
      ctx.fillStyle = '#fff';
      ctx.fill();
      ctx.lineWidth = 3.2;
      ctx.strokeStyle = '#000';
      ctx.stroke();
      L.rows.forEach(r => {
        const ry = a.top + r.dy;
        if (r.kind === 'square') {
          ctx.fillStyle = r.color;
          L.marks.forEach(m => { ctx.fillRect(a.left + m - 4, ry - 4, 8, 8); });
        } else {
          ctx.strokeStyle = r.color;
          ctx.lineWidth = 3;
          ctx.beginPath(); ctx.moveTo(a.left + L.marks[0], ry); ctx.lineTo(a.left + L.marks[1], ry); ctx.stroke();
        }
        ctx.fillStyle = '#000';
        ctx.textBaseline = 'middle';
        ctx.textAlign = 'left';
        ctx.fillText(r.label, a.left + L.textDx, ry);
      });
    }
    ctx.restore();
  }
};

function makeScale(min, max, ticks, title, tickPad, titlePad, fitSize, isX) {
  return {
    type: 'linear',
    min, max,
    afterBuildTicks: s => { s.ticks = ticks.map(v => ({value: v})); },
    afterFit: s => {
      if (isX) s.height = fitSize; else s.width = fitSize;
      s.paddingLeft = 0; s.paddingRight = 0; s.paddingTop = 0; s.paddingBottom = 0;
    },
    grid: {display: false, drawTicks: false},
    border: {display: false},
    ticks: {
      autoSkip: false, maxRotation: 0, minRotation: 0, padding: tickPad,
      color: '#000', font: {family: SERIF, size: 26},
      callback: v => minus(v)
    },
    title: title ? {display: true, text: title, color: '#000', font: {family: SERIF, size: 26}, padding: titlePad} : {display: false}
  };
}

function makeChart(id, datasets, xs, ys, padding, legend) {
  return new Chart(document.getElementById(id), {
    type: 'scatter',
    data: {datasets},
    options: {
      responsive: false, animation: false, devicePixelRatio: 1, events: [],
      layout: {padding},
      plugins: {legend: {display: false}, tooltip: {enabled: false}, mplFrame: {legend}},
      scales: {x: xs, y: ys}
    },
    plugins: [mplFrame]
  });
}

const sq = (color, r) => ({pointStyle: 'rect', pointRadius: r, pointBorderWidth: 0, backgroundColor: color, borderColor: color, showLine: false, clip: 0});

// Top-left: proxy cc
makeChart('c1',
  [Object.assign({label: 'proxy cc', data: pts(proxyCC)}, sq('#0000ff', 5.8))],
  makeScale(-8, 0, tempRelTicks, 'temperature [degC] relative to start', 12.4, {top: 0, bottom: 6.4}, 88, true),
  makeScale(-60, 40, proxyDelayTicks, 'raw delay [psec]', 15, {top: 9.4, bottom: 0}, 118, false),
  {left: 0, right: 26, top: 32, bottom: 0},
  {dx: 13, dy: 12, h: 47, textDx: 100, padR: 11, size: 26, marks: [33, 70],
   rows: [{kind: 'square', color: '#0000ff', label: 'proxy cc', dy: 32}]}
);

// Top-right: CDMS
makeChart('c2',
  [Object.assign({label: 'CDMS', data: pts(cdms)}, sq('#ff0000', 5.8))],
  makeScale(-8, 0, tempRelTicks, 'temperature [degC] relative to start', 12.4, {top: 0, bottom: 6.4}, 88, true),
  makeScale(-25, 15, cdmsDelayTicks, '', 15, 0, 85, false),
  {left: 0, right: 29, top: 32, bottom: 0},
  {dx: 14, dy: 13, h: 40, textDx: 100, padR: 12, size: 26, marks: [33, 70],
   rows: [{kind: 'square', color: '#ff0000', label: 'CDMS', dy: 32.5}]}
);

// Bottom-left: station temp
makeChart('c3',
  [Object.assign({label: 'station temp', data: pts(stationTemp)}, sq('#bf00bf', 6.2))],
  makeScale(16.62, 44.4, hourTicks, 'hours from 12-14-2022 00:00:00 UTC', 8.4, {top: 0, bottom: 0.4}, 76, true),
  makeScale(-11, -2, stationTempTicks, 'temperature [degC]', 15, {top: 9.4, bottom: 0}, 118, false),
  {left: 0, right: 26, top: 20, bottom: 0},
  {dx: 13, dy: 13, h: 47, textDx: 99, padR: 11, size: 26, marks: [33, 70],
   rows: [{kind: 'square', color: '#bf00bf', label: 'station temp', dy: 33}]}
);

// Bottom-right: smoothed series
makeChart('c4',
  [
    {label: 'smoothed CDMS', data: pts(smoothedCDMS), showLine: true, pointRadius: 0, borderColor: '#ff0000', borderWidth: 3.2, fill: false, tension: 0, order: 2, borderJoinStyle: 'round', clip: 0},
    {label: 'smoothed proxy cc', data: pts(smoothedProxy), showLine: true, pointRadius: 0, borderColor: '#0000ff', borderWidth: 3.2, fill: false, tension: 0, order: 1, borderJoinStyle: 'round', clip: 0}
  ],
  makeScale(16.62, 44.4, hourTicks, 'hours from 12-14-2022 00:00:00 UTC', 8.4, {top: 0, bottom: 0.4}, 76, true),
  makeScale(-60, 40, smoothDelayTicks, '', 15, 0, 85, false),
  {left: 0, right: 29, top: 20, bottom: 0},
  {dx: 281, dy: 12, h: 71, textDx: 353, padR: 10, size: 22.5, marks: [296, 331],
   rows: [{kind: 'line', color: '#ff0000', label: 'smoothed CDMS', dy: 28},
          {kind: 'line', color: '#0000ff', label: 'smoothed proxy cc', dy: 60}]}
);
</script>
</body>
</html>
